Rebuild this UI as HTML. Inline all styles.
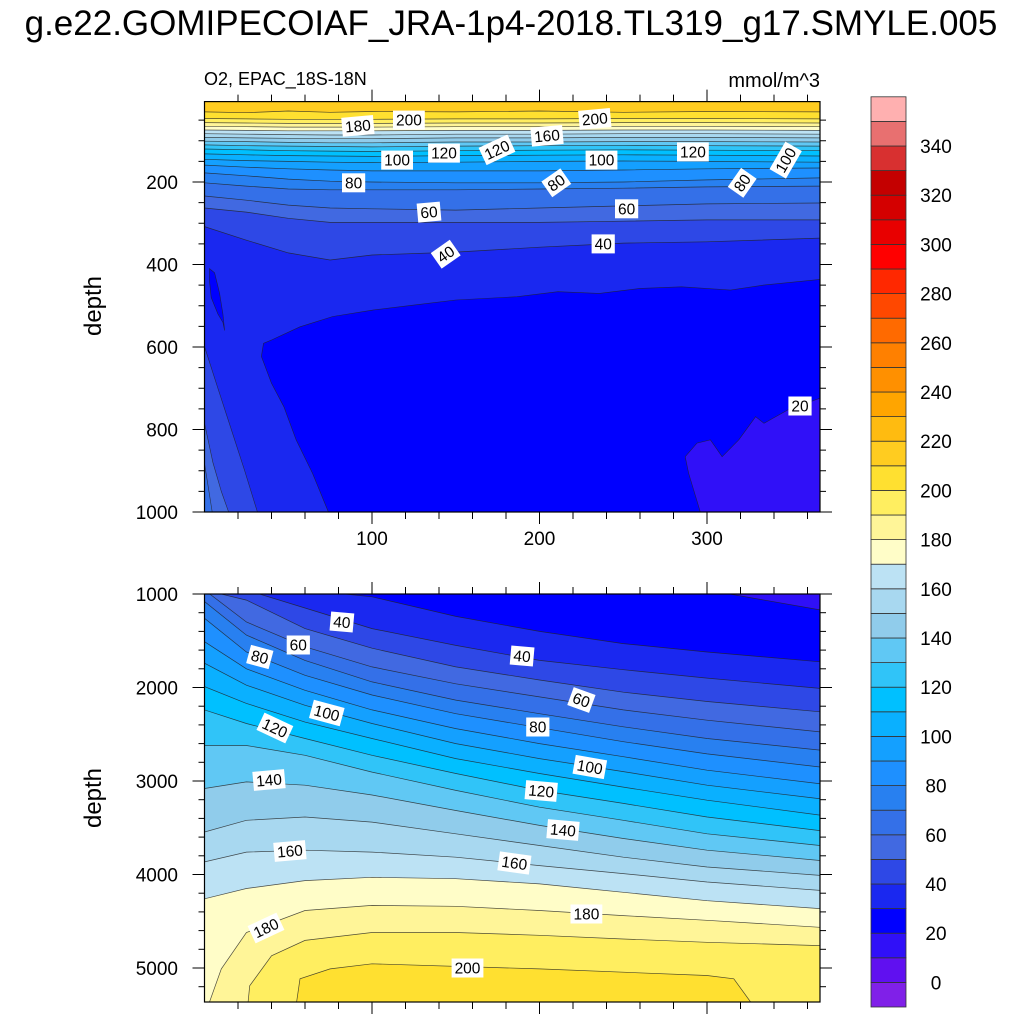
<!DOCTYPE html>
<html><head><meta charset="utf-8"><style>
html,body{margin:0;padding:0;background:#fff;overflow:hidden;width:1024px;height:1024px;}
svg{display:block;}
svg text{font-family:"Liberation Sans",Arial,sans-serif;}
</style></head><body>
<svg id="chart" width="1024" height="1024" viewBox="0 0 1024 1024" xmlns="http://www.w3.org/2000/svg">
<text x="511" y="35" font-size="35" text-anchor="middle">g.e22.GOMIPECOIAF_JRA-1p4-2018.TL319_g17.SMYLE.005</text>
<text x="204" y="85" font-size="18">O2, EPAC_18S-18N</text>
<text x="820" y="87" font-size="20" text-anchor="end">mmol/m^3</text>
<text transform="translate(101,306) rotate(-90)" font-size="24" text-anchor="middle">depth</text>
<text transform="translate(101,798) rotate(-90)" font-size="24" text-anchor="middle">depth</text>
<defs>
<clipPath id="clipTop"><rect x="204.5" y="101.6" width="615.5" height="410.4"/></clipPath>
<clipPath id="clipBot"><rect x="204.5" y="594" width="615.5" height="408"/></clipPath>
</defs>
<g id="topFill" clip-path="url(#clipTop)"></g>
<g id="botFill" clip-path="url(#clipBot)"></g>
<g id="axes"></g>
<g id="labels"></g>
<g id="cbar"></g>
</svg>
<script>
const colors = ['#8020e8','#6010f0','#3010f8','#0000ff','#1a28f0','#2e48e6','#4169e1','#3470e8','#2880f0','#1e90ff','#14a0ff','#0ab0ff','#00c0ff','#30c4f8','#60c8f4','#90cceb','#a8d8f0','#bce2f4','#fffdc8','#fff598','#ffee60','#ffe030','#ffcc20','#ffbb10','#ffa500','#ff9000','#ff8000','#ff6a00','#ff4800','#ff2800','#ff0000','#e80000','#d40000','#c40000','#d83030','#e87070','#ffb0b0'];
const cbarTicks = [0,20,40,60,80,100,120,140,160,180,200,220,240,260,280,300,320,340];

const xsTop = [0,25,50,75,100,150,200,250,300,367.5];
const topLevels = [40,50,60,70,80,90,100,110,120,130,140,150,160,170,180,190,200,210];
const tL40 = [308,341,372,389,377,370,358,348,345,336];
const tL50 = [263,273,288,298,298,298,298,295,292,292];
const tL60 = [234,244,256,263,265,268,263,258,253,251];
const tL70 = [202,210,217,219,219,219,217,215,212,210];
const tL80 = [178,185,193,198,200,202,202,200,195,190];
const tL90 = [159,164,168,171,173,173,173,171,168,166];
const tL100 = [145,148,150,152,153,152,150,149,150,152];
const tL110 = [132,134,136,137,138,136,135,134,135,137];
const tL120 = [120,122,124,125,126,124,123,122,123,124];
const tL130 = [110,112,113,114,115,113,112,111,112,113];
const tL140 = [101,102,104,105,105,103,103,102,102,103];
const tL150 = [92,93,94,95,95,93,93,92,92,93];
const tL160 = [83,84,85,86,86,84,84,83,83,84];
const tL170 = [74,75,76,76,76,75,75,74,74,75];
const tL180 = [65,66,67,67,67,66,66,65,65,66];
const tL190 = [56,57,58,58,58,57,57,56,56,57];
const tL200 = [46,47,48,48,48,47,47,46,46,47];
const tL210 = [30,32,28,31,29,30,28,31,29,30];
const topLines = [tL40,tL50,tL60,tL70,tL80,tL90,tL100,tL110,tL120,tL130,tL140,tL150,tL160,tL170,tL180,tL190,tL200,tL210];
const core30X = [74,64.5,54.7,47.4,40,34,35.2,40,57,76.6,101,125.6,150,186.6,211,235.7,260,284.8,314,333.8,367.5];
const core30D = [1000,906,825,745,688,623,591,583,551,526,510,498,486,478,466,470,458,454,462,450,436];
const core20X = [296,289,287,294,302,309,319,329,334,348,367.5];
const core20D = [1000,906,866,833,825,866,825,769,785,753,724];
const islandX = [3,6,9,11,12,11,8,4,3];
const islandD = [410,420,470,520,560,540,520,480,440];
const wall40X = [0,8,16,24,31.6]; const wall40D = [599,700,800,900,1000];
const wall50X = [0,5,10,14.4]; const wall50D = [785,880,950,1000];
const wall60X = [0,4.6]; const wall60D = [882,1000];

const xsBot = [0,25,60,100,150,200,250,300,367.5];
const botLevels = [20,30,40,50,60,70,80,90,100,110,120,130,140,150,160,170];
const bL20 = [500,500,500,500,500,500,500,940,1170];
const bL30 = [-170,190,620,1030,1240,1400,1530,1620,1725];
const bL40 = [370,830,1150,1370,1550,1710,1810,1900,2010];
const bL50 = [690,1065,1370,1580,1780,1920,2050,2150,2260];
const bL60 = [940,1300,1565,1780,1960,2100,2240,2350,2475];
const bL70 = [1080,1440,1710,1940,2135,2280,2420,2545,2670];
const bL80 = [1260,1620,1870,2080,2280,2430,2580,2710,2850];
const bL90 = [1510,1800,2030,2240,2440,2600,2740,2885,3030];
const bL100 = [1740,1975,2190,2385,2600,2760,2900,3045,3190];
const bL110 = [1990,2170,2370,2545,2760,2920,3065,3205,3365];
const bL120 = [2240,2385,2545,2725,2920,3100,3240,3385,3530];
const bL130 = [2620,2620,2725,2905,3100,3280,3420,3565,3690];
const bL140 = [3080,3010,3045,3150,3315,3475,3615,3740,3850];
const bL150 = [3545,3420,3385,3440,3565,3690,3815,3920,4010];
const bL160 = [3865,3760,3740,3760,3815,3905,3990,4080,4170];
const bL170 = [4260,4150,4065,4030,4045,4100,4190,4280,4365];
const botLines = [bL20,bL30,bL40,bL50,bL60,bL70,bL80,bL90,bL100,bL110,bL120,bL130,bL140,bL150,bL160,bL170];
const bL180X = [0,3,10,25,60,100,150,200,250,300,367.5];
const bL180D = [5900,5375,5010,4620,4385,4330,4340,4385,4440,4490,4565];
const bL190X = [0,26,27,40,60,100,150,200,250,300,367.5];
const bL190D = [6000,6000,5190,4870,4705,4620,4620,4650,4690,4725,4760];
const bL200X = [0,55,57,75,100,200,300,316,326,367.5];
const bL200D = [6000,6000,5115,5010,4955,5010,5080,5115,5400,6000];

const topLabText = ['180','200','160','200','100','120','120','100','120','100','80','80','80','60','60','40','40','20'];
const topLabX = [91.6,122,204.5,233,115,143,174.6,237,291.6,347,89,210,321,134,252,144,238,355.5];
const topLabD = [64,50,88,47,147,130,122,147,127,147,202,202,202,273,265,375,350,743];
const topLabRot = [-5,0,-5,-5,0,0,-25,0,0,-60,0,-35,-55,-5,0,-35,0,0];
const botLabText = ['40','60','80','40','60','100','120','80','100','140','120','140','160','160','180','180','200'];
const botLabX = [82,56,33,189.6,225,73,42,199,230,38.5,201,214,51,185,228,36.7,157];
const botLabD = [1300,1545,1674,1663,2134,2273,2433,2422,2850,2989,3107,3524,3749,3877,4422,4572,5000];
const botLabRot = [5,0,15,5,20,15,25,0,10,-5,5,5,-5,8,0,-25,0];

const X0 = 204.5, XS = 1.675, XMAX = 367.5;
function xPos(v){ return X0 + v*XS; }
function yTop(d){ return Math.max(60, Math.min(513, 182 + (d-200)*0.4125)); }
function yBot(d){ return Math.max(590, Math.min(1002, 594 + (d-1000)*0.0935)); }
function colorFor(level){ return colors[level/10+1]; }
const NS = 'http://www.w3.org/2000/svg';
function mk(tag, attrs, parent){ const e=document.createElementNS(NS,tag); for(const k in attrs) e.setAttribute(k,attrs[k]); parent.appendChild(e); return e; }
function pts(xs, ds, yf){ return xs.map((x,i)=>xPos(x).toFixed(1)+','+yf(ds[i]).toFixed(1)); }

const tf = document.getElementById('topFill');
let bg = mk('rect',{x:204.5,y:101.6,width:615.5,height:410.4,fill:colorFor(30)},tf);


function closedPoly(xs, ds, extra, fill, name, parent, yf){
  const p = pts(xs,ds,yf).concat(extra);
  const el = mk('polygon',{points:p.join(' '),fill:fill,stroke:'#222','stroke-width':0.6,'stroke-opacity':0.8},parent);
  
  
  return el;
}
closedPoly(core30X, core30D, [xPos(XMAX)+','+yTop(1100), xPos(70)+','+yTop(1100)], colorFor(20), 'top-band-20', tf, yTop);
closedPoly(core20X, core20D, [xPos(XMAX)+','+yTop(1100), xPos(296)+','+yTop(1100)], colorFor(10), 'top-band-10', tf, yTop);
closedPoly(islandX, islandD, [], colorFor(20), 'top-island-20', tf, yTop);
closedPoly(wall40X, wall40D, [xPos(31.6)+','+yTop(1100), xPos(0)+','+yTop(1100), xPos(0)+','+yTop(599)], colorFor(40), 'top-wall-40', tf, yTop);
closedPoly(wall50X, wall50D, [xPos(14.4)+','+yTop(1100), xPos(0)+','+yTop(1100), xPos(0)+','+yTop(785)], colorFor(50), 'top-wall-50', tf, yTop);
closedPoly(wall60X, wall60D, [xPos(4.6)+','+yTop(1100), xPos(0)+','+yTop(1100), xPos(0)+','+yTop(882)], colorFor(60), 'top-wall-60', tf, yTop);
topLevels.forEach((lev,i)=>{
  const p = pts(xsTop, topLines[i], yTop);
  p.push(xPos(XMAX+5)+','+yTop(topLines[i][topLines[i].length-1]));
  p.push(xPos(XMAX+5)+','+yTop(-50));
  p.push(xPos(-2)+','+yTop(-50));
  p.push(xPos(-2)+','+yTop(topLines[i][0]));
  const el = mk('polygon',{points:p.join(' '),fill:colorFor(lev)},tf);
  
  
  const ln = mk('polyline',{points:pts(xsTop, topLines[i], yTop).join(' '),fill:'none',stroke:'#222','stroke-width':0.7,'stroke-opacity':0.8},tf);
  
  
});

const bf = document.getElementById('botFill');
let bg2 = mk('rect',{x:204.5,y:594,width:615.5,height:408,fill:colorFor(10)},bf);


function belowPoly(xs, ds, lev){
  const p = pts(xs, ds, yBot);
  p.push(xPos(XMAX+5)+','+yBot(ds[ds.length-1]));
  p.push(xPos(XMAX+5)+','+yBot(5400));
  p.push(xPos(-2)+','+yBot(5400));
  p.push(xPos(-2)+','+yBot(ds[0]));
  const el = mk('polygon',{points:p.join(' '),fill:colorFor(lev)},bf);
  
  
  const ln = mk('polyline',{points:pts(xs, ds, yBot).join(' '),fill:'none',stroke:'#222','stroke-width':0.7,'stroke-opacity':0.8},bf);
  
  
}
botLevels.forEach((lev,i)=>belowPoly(xsBot, botLines[i], lev));
belowPoly(bL180X, bL180D, 180);
belowPoly(bL190X, bL190D, 190);
belowPoly(bL200X, bL200D, 200);

const ax = document.getElementById('axes');
function frame(y0,y1,name){
  const r = mk('rect',{x:204.5,y:y0,width:615.5,height:y1-y0,fill:'none',stroke:'#000','stroke-width':1.2},ax);
  
  
}
frame(101.6,512,'top-plot-frame');
frame(594,1002,'bottom-plot-frame');
function tick(x1,y1,x2,y2){ const t=mk('line',{x1:x1,y1:y1,x2:x2,y2:y2,stroke:'#000','stroke-width':1},ax);   }
function txt(x,y,s,anchor,name,size){ const t=mk('text',{x:x,y:y,'font-size':size||19,'text-anchor':anchor},ax); t.textContent=s;   }
[[101.6,512],[594,1002]].forEach(([y0,y1],pi)=>{
  for(let v=20; v<=360; v+=20){
    const major = v%100===0; const L = major?12:7; const x=xPos(v);
    tick(x,y0,x,y0-L); tick(x,y1,x,y1+L);
    if(major && pi===0) txt(x,545,String(v),'middle','x-tick-label-'+v);
  }
});
for(let d=50; d<=1000; d+=50){
  const major = d%200===0; const L = major?12:6; const y=182+(d-200)*0.4125;
  tick(204.5,y,204.5-L,y); tick(820,y,820+L,y);
  if(major) txt(178,y+7,String(d),'end','top-y-tick-label-'+d);
}
for(let d=1000; d<=5375; d+=200){
  const major = d%1000===0; const L = major?12:6; const y=594+(d-1000)*0.0935;
  tick(204.5,y,204.5-L,y); tick(820,y,820+L,y);
  if(major) txt(178,y+7,String(d),'end','bottom-y-tick-label-'+d);
}

const lg = document.getElementById('labels');
function addLabel(s,x,y,rot,name){
  const g = mk('g',{transform:'translate('+x.toFixed(1)+','+y.toFixed(1)+') rotate('+rot+')'},lg);
  
  
  const w = s.length*8.6+6;
  mk('rect',{x:-w/2,y:-9.5,width:w,height:19,fill:'#fff'},g);
  const t = mk('text',{x:0,y:5.5,'font-size':15.5,'text-anchor':'middle'},g);
  t.textContent = s;
}
topLabText.forEach((s,i)=>addLabel(s,xPos(topLabX[i]),yTop(topLabD[i]),topLabRot[i],'top-contour-label-'+s));
botLabText.forEach((s,i)=>addLabel(s,xPos(botLabX[i]),yBot(botLabD[i]),botLabRot[i],'bottom-contour-label-'+s));

const cb = document.getElementById('cbar');
const CB_BOT = 1007, CB_H = 24.6;
colors.forEach((c,k)=>{
  const y = CB_BOT - (k+1)*CB_H;
  const r = mk('rect',{x:871,y:y.toFixed(1),width:35,height:CB_H.toFixed(1),fill:c,stroke:'#333','stroke-width':0.8},cb);
  
  
});
cbarTicks.forEach(v=>{
  const y = CB_BOT - (v/10+1)*CB_H;
  const t = mk('text',{x:936,y:(y+7).toFixed(1),'font-size':19,'text-anchor':'middle'},cb);
  t.textContent = String(v);
  
  
});
</script>
</body></html>
